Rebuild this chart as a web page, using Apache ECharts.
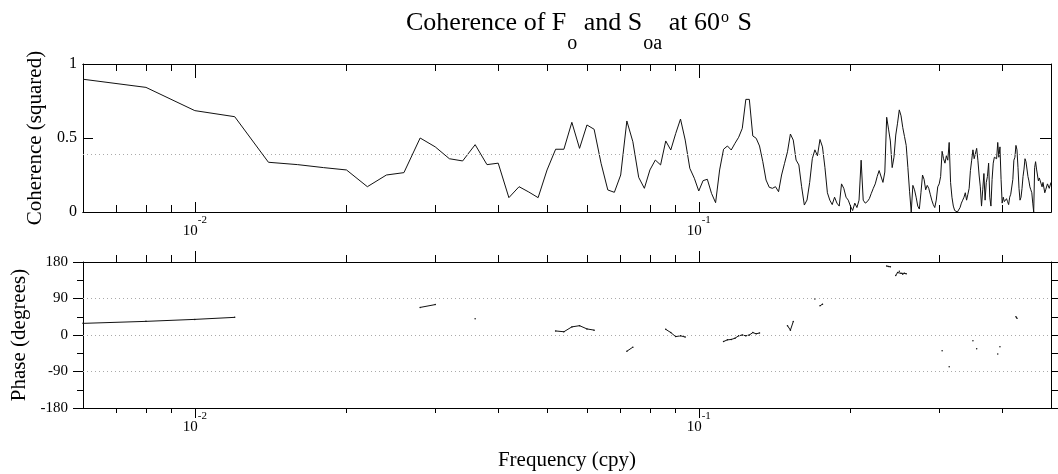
<!DOCTYPE html>
<html><head><meta charset="utf-8">
<script src="https://cdn.jsdelivr.net/npm/echarts@6/dist/echarts.min.js"></script>
<style>html,body{margin:0;padding:0;background:#fff}#c{width:1058px;height:474px}</style>
</head><body><div id="c"></div>
<script>
// Frequency grid (cpy): first frequency and spacing of the spectral estimates
const FREQ_FIRST = 0.006;
const FREQ_STEP = 0.002;
// Squared coherence at each frequency
const coherence = [
0.897,0.842,0.685,0.644,0.336,0.32,0.30,0.284,0.171,0.25,
0.266,0.50,0.44,0.36,0.345,0.455,0.32,0.33,0.097,0.171,
0.135,0.097,0.284,0.424,0.424,0.606,0.43,0.588,0.559,0.329,
0.149,0.133,0.25,0.615,0.475,0.234,0.16,0.284,0.351,0.318,
0.48,0.419,0.53,0.628,0.486,0.295,0.228,0.142,0.212,0.221,
0.126,0.063,0.284,0.424,0.446,0.419,0.464,0.505,0.565,0.761,
0.761,0.514,0.498,0.446,0.34,0.216,0.167,0.16,0.171,0.137,
0.25,0.329,0.407,0.527,0.486,0.351,0.318,0.171,0.047,0.081,
0.20,0.36,0.42,0.38,0.49,0.44,0.30,0.13,0.08,0.05,
0.10,0.06,0.04,0.19,0.16,0.10,0.08,0.04,0.01,0.06,
0.03,0.08,0.35,0.08,0.06,0.07,0.09,0.126,0.16,0.19,
0.24,0.28,0.27,0.20,0.27,0.64,0.56,0.48,0.30,0.37,
0.52,0.60,0.69,0.65,0.57,0.51,0.45,0.30,0.14,0.00,
0.18,0.15,0.10,0.04,0.02,0.13,0.25,0.22,0.15,0.18,
0.16,0.12,0.08,0.05,0.03,0.08,0.17,0.19,0.24,0.41,
0.36,0.33,0.38,0.35,0.47,0.20,0.10,0.04,0.01,0.01,
0.00,0.01,0.03,0.06,0.08,0.10,0.13,0.08,0.12,0.16,
0.28,0.35,0.42,0.36,0.37,0.43,0.35,0.25,0.17,0.04,
0.15,0.26,0.08,0.20,0.24,0.33,0.10,0.04,0.22,0.33,
0.37,0.38,0.36,0.47,0.37,0.44,0.22,0.06,0.10,0.07,
0.08,0.09,0.07,0.05,0.10,0.12,0.13,0.22,0.35,0.37,
0.45,0.42,0.30,0.16,0.08,0.10,0.16,0.24,0.29,0.36,
0.34,0.33,0.24,0.21,0.17,0.15,0.13,0.06,0.00,0.30,
0.34,0.29,0.25,0.21,0.23,0.22,0.19,0.17,0.20,0.21,
0.13,0.15,0.15,0.19,0.20,0.16,0.17,0.20
];
// Phase (degrees), only where coherence is significant: frequency in cpy and phase
const phaseFreq = [0.006,0.008,0.010,0.012, 0.028,0.030, 0.036,
  0.052,0.054,0.056,0.058,0.060,0.062, 0.072,0.074,
  0.086,0.088,0.090,0.092,0.094,
  0.112,0.114,0.116,0.118,0.120,0.122,0.124,0.126,0.128,0.130,0.132,
  0.150,0.152,0.154, 0.170,0.174,0.176,
  0.236,0.238,0.240, 0.246,0.248,0.250,0.252,0.254,0.256,0.258,
  0.304,0.314,0.350,0.356,0.392,0.396,0.426,0.428];
const phaseDeg = [28.7,33.6,38.5,43.5, 68,75, 40,
  10,8,20,23,15,12, -40,-30,
  14,6,-4,-2,-5,
  -16,-12,-11,-8,-2,0,-2,0,6,3,5,
  23,12,33, 89,72,76,
  170,169,168, 147,154,157,152,150,152,151,
  -39,-78,-14,-34,-47,-29,45,41];
const SIGNIFICANCE = 0.39;
const phaseRefLines = [90, 0, -90];
const majorFreqTicks = [0.01, 0.1];
const minorFreqTicks = [0.007,0.008,0.009,0.02,0.03,0.04,0.05,0.06,0.07,0.08,0.09,0.2,0.3,0.4];
const X_MIN = 0.006, X_MAX = 0.5;

const freqs = coherence.map((_, i) => +(FREQ_FIRST + i * FREQ_STEP).toFixed(4));
const cohData = freqs.map((f, i) => [f, coherence[i]]);
const phaseLookup = {};
phaseFreq.forEach((f, i) => { phaseLookup[f.toFixed(4)] = phaseDeg[i]; });
const phaseData = freqs.map(f => {
  const p = phaseLookup[f.toFixed(4)];
  return [f, p === undefined ? '-' : p];
});

const SERIF = 'Liberation Serif';
const BLACK = '#000';

function xAxis(grid, pos, major, inside, len, labels) {
  return {
    type: 'log', logBase: 10, gridIndex: grid, position: pos, min: X_MIN, max: X_MAX,
    axisLine: { show: true, onZero: false, lineStyle: { color: BLACK, width: 1 } },
    axisTick: { show: true, inside: inside, length: len, lineStyle: { color: BLACK, width: 1 },
      customValues: major ? majorFreqTicks : minorFreqTicks },
    minorTick: { show: false },
    splitLine: { show: false },
    axisLabel: labels ? {
      show: true, customValues: majorFreqTicks, margin: 3,
      formatter: v => '{b|10}{s|' + Math.round(Math.log10(v)) + '}',
      rich: {
        b: { fontFamily: SERIF, fontSize: 15, color: BLACK, lineHeight: 15, padding: [9, 0, 0, 0], verticalAlign: 'top' },
        s: { fontFamily: SERIF, fontSize: 11, color: BLACK, lineHeight: 11, verticalAlign: 'top' }
      }
    } : { show: false }
  };
}

const option = {
  backgroundColor: '#fff',
  animation: false,
  title: {
    left: 401, top: 5,
    text: '{n|Coherence of F}{sub|o}{n| and S}{sub|oa}{n| at 60}{sup|o}{n| S}',
    textStyle: {
      fontWeight: 'normal',
      rich: {
        n: { fontFamily: SERIF, fontWeight: 'normal', fontSize: 26, color: BLACK, lineHeight: 28, verticalAlign: 'top' },
        sub: { fontFamily: SERIF, fontWeight: 'normal', fontSize: 20, color: BLACK, lineHeight: 20, verticalAlign: 'top', padding: [24, 0, 0, 1] },
        sup: { fontFamily: SERIF, fontWeight: 'normal', fontSize: 16, color: BLACK, lineHeight: 16, verticalAlign: 'top', padding: [0, 2, 0, 1] }
      }
    }
  },
  grid: [
    { left: 83, top: 64, width: 968, height: 148 },
    { left: 83, top: 262, width: 968, height: 146 }
  ],
  xAxis: [
    xAxis(0, 'bottom', true, true, 10, true),
    xAxis(0, 'bottom', false, true, 7, false),
    xAxis(0, 'top', true, true, 14, false),
    xAxis(0, 'top', false, true, 7, false),
    Object.assign(xAxis(1, 'bottom', true, false, 10, true), {
      name: 'Frequency (cpy)', nameLocation: 'middle', nameGap: 42,
      nameTextStyle: { fontFamily: SERIF, fontSize: 21, color: BLACK }
    }),
    xAxis(1, 'bottom', false, false, 5, false),
    xAxis(1, 'top', true, false, 11, false),
    xAxis(1, 'top', false, false, 7, false)
  ],
  yAxis: [
    {
      type: 'value', gridIndex: 0, position: 'left', min: 0, max: 1, interval: 0.5,
      name: 'Coherence (squared)', nameLocation: 'middle', nameGap: 24,
      nameTextStyle: { fontFamily: SERIF, fontSize: 21, color: BLACK },
      axisLine: { show: true, onZero: false, lineStyle: { color: BLACK } },
      axisTick: { show: true, inside: true, length: 10, lineStyle: { color: BLACK } },
      axisLabel: { fontFamily: SERIF, fontSize: 16, color: BLACK, margin: 6 },
      splitLine: { show: false }
    },
    {
      type: 'value', gridIndex: 0, position: 'right', min: 0, max: 1, interval: 0.5,
      axisLine: { show: true, onZero: false, lineStyle: { color: BLACK } },
      axisTick: { show: true, inside: true, length: 11, lineStyle: { color: BLACK } },
      axisLabel: { show: false }, splitLine: { show: false }
    },
    {
      type: 'value', gridIndex: 1, position: 'left', min: -180, max: 180, interval: 90,
      name: 'Phase (degrees)', nameLocation: 'middle', nameGap: 44,
      nameTextStyle: { fontFamily: SERIF, fontSize: 21, color: BLACK },
      axisLine: { show: true, onZero: false, lineStyle: { color: BLACK } },
      axisTick: { show: true, inside: false, length: 10, lineStyle: { color: BLACK } },
      minorTick: { show: true, splitNumber: 2, length: 6, lineStyle: { color: BLACK } },
      axisLabel: { fontFamily: SERIF, fontSize: 15, color: BLACK, margin: 15 },
      splitLine: { show: false }
    },
    {
      type: 'value', gridIndex: 1, position: 'right', min: -180, max: 180, interval: 90,
      axisLine: { show: true, onZero: false, lineStyle: { color: BLACK } },
      axisTick: { show: true, inside: false, length: 8, lineStyle: { color: BLACK } },
      minorTick: { show: true, splitNumber: 2, length: 8, lineStyle: { color: BLACK } },
      axisLabel: { show: false }, splitLine: { show: false }
    }
  ],
  series: [
    {
      type: 'line', xAxisIndex: 0, yAxisIndex: 0, data: cohData,
      showSymbol: false, lineStyle: { color: '#111', width: 1 },
      markLine: {
        silent: true, symbol: 'none', label: { show: false },
        lineStyle: { color: '#aaa', width: 1, type: [1, 3] },
        data: [{ yAxis: SIGNIFICANCE }]
      }
    },
    {
      type: 'line', xAxisIndex: 4, yAxisIndex: 2, data: phaseData, connectNulls: false,
      showSymbol: true, symbol: 'circle', symbolSize: 1.5,
      itemStyle: { color: '#111' }, lineStyle: { color: '#111', width: 1 },
      markLine: {
        silent: true, symbol: 'none', label: { show: false },
        lineStyle: { color: '#aaa', width: 1, type: [1, 3] },
        data: phaseRefLines.map(v => ({ yAxis: v }))
      }
    }
  ]
};
const chart = echarts.init(document.getElementById('c'), null, { renderer: 'canvas' });
chart.setOption(option);
</script>
</body></html>
